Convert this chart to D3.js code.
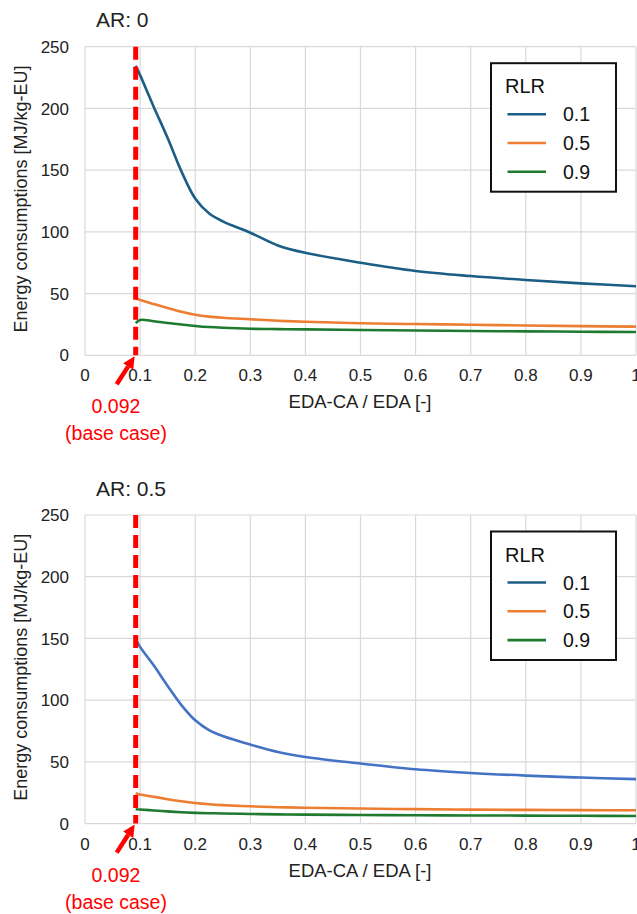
<!DOCTYPE html>
<html>
<head>
<meta charset="utf-8">
<script src="https://cdn.jsdelivr.net/npm/d3@7"></script>
<style>
  body { margin: 0; background: #fff; }
  svg { font-family: "Liberation Sans", Arial, sans-serif; }
</style>
</head>
<body>
<svg id="chart" width="637" height="914"></svg>
<script>
// x positions (EDA-CA / EDA)
var xs = [0.092, 0.1, 0.125, 0.15, 0.175, 0.2, 0.225, 0.25, 0.3, 0.35, 0.4, 0.5, 0.6, 0.7, 0.8, 0.9, 1.0];
var rlrLabels = ["0.1", "0.5", "0.9"];
var xTicks = [0, 0.1, 0.2, 0.3, 0.4, 0.5, 0.6, 0.7, 0.8, 0.9, 1];
var yTicks = [0, 50, 100, 150, 200, 250];
var baseCase = 0.092;

// AR: 0
var ar0_rlr01 = [234.5, 227, 201, 176, 149, 127, 115, 108.5, 99.3, 89, 83, 75, 68.3, 64.2, 61, 58.3, 56];
var ar0_rlr05 = [46, 44.8, 41.5, 38.3, 35.3, 32.8, 31.3, 30.4, 29.2, 28, 27.2, 26, 25.3, 24.8, 24.1, 23.6, 23.2];
var ar0_rlr09 = [26, 28.6, 27.6, 26.2, 24.9, 23.8, 22.9, 22.3, 21.5, 21.2, 21, 20.5, 20.1, 19.7, 19.4, 19.1, 18.9];
// AR: 0.5
var ar05_rlr01 = [150, 143.2, 128, 111.5, 96, 83.7, 75.8, 71, 64, 58, 54, 48.7, 44, 41, 38.9, 37.3, 36];
var ar05_rlr05 = [24.5, 23.5, 21.7, 19.8, 18.1, 16.7, 15.7, 15, 14, 13.3, 12.8, 12.2, 11.7, 11.3, 11.1, 10.9, 10.8];
var ar05_rlr09 = [11.6, 11.4, 10.6, 9.9, 9.2, 8.7, 8.4, 8.2, 7.8, 7.5, 7.3, 7, 6.8, 6.6, 6.5, 6.3, 6.2];

var legendColors = ["#1a5e85", "#ed7d31", "#1f7a30"];

var svg = d3.select("#chart");

// 描画関数
function drawPanel(top, title, series, colors) {
  var left = 85, right = 636, bottom = top + 308.6;
  var x = d3.scaleLinear().domain([0, 1]).range([left, right]);
  var y = d3.scaleLinear().domain([0, 250]).range([bottom, top]);
  var g = svg.append("g");

  // grid
  g.selectAll(".vg").data(xTicks).enter().append("line")
    .attr("x1", function(d){ return x(d); }).attr("x2", function(d){ return x(d); })
    .attr("y1", top).attr("y2", bottom)
    .attr("stroke", "#d9d9d9").attr("stroke-width", 1.2);
  g.selectAll(".hg").data(yTicks).enter().append("line")
    .attr("x1", left).attr("x2", right)
    .attr("y1", function(d){ return y(d); }).attr("y2", function(d){ return y(d); })
    .attr("stroke", "#d9d9d9").attr("stroke-width", 1.2);

  // tick labels
  g.selectAll(".yt").data(yTicks).enter().append("text")
    .attr("x", 69).attr("y", function(d){ return y(d); }).attr("dy", "0.36em")
    .attr("text-anchor", "end").attr("font-size", 17).attr("fill", "#222")
    .text(function(d){ return d; });
  g.selectAll(".xt").data(xTicks).enter().append("text")
    .attr("x", function(d){ return x(d); }).attr("y", bottom + 26)
    .attr("text-anchor", "middle").attr("font-size", 17).attr("fill", "#222")
    .text(function(d){ return d; });

  // axis titles
  g.append("text")
    .attr("transform", "translate(27," + ((top + bottom) / 2 - 2) + ") rotate(-90)")
    .attr("text-anchor", "middle").attr("font-size", 18).attr("fill", "#222")
    .text("Energy consumptions [MJ/kg-EU]");
  g.append("text")
    .attr("x", 360).attr("y", bottom + 53)
    .attr("text-anchor", "middle").attr("font-size", 18.5).attr("fill", "#222")
    .text("EDA-CA / EDA [-]");
  g.append("text")
    .attr("x", 96).attr("y", top - 19.5)
    .attr("font-size", 21).attr("fill", "#222")
    .text(title);

  // lines
  var line = d3.line()
    .x(function(d, i){ return x(xs[i]); })
    .y(function(d){ return y(d); })
    .curve(d3.curveCatmullRom.alpha(0.5));
  series.forEach(function(s, i) {
    g.append("path")
      .attr("d", line(s))
      .attr("fill", "none")
      .attr("stroke", colors[i])
      .attr("stroke-width", 2.6);
  });

  // base case marker
  g.append("line")
    .attr("x1", x(baseCase)).attr("x2", x(baseCase))
    .attr("y1", top).attr("y2", bottom)
    .attr("stroke", "#ff0000").attr("stroke-width", 5)
    .attr("stroke-dasharray", "13,7");
  var ax = x(baseCase) - 1, ay = bottom + 1;
  var tx = ax - 18, ty = ay + 28;
  var ang = Math.atan2(ay - ty, ax - tx);
  var hl = 12, hw = 6;
  var bx = ax - hl * Math.cos(ang), by = ay - hl * Math.sin(ang);
  g.append("line")
    .attr("x1", tx).attr("y1", ty).attr("x2", bx).attr("y2", by)
    .attr("stroke", "#ff0000").attr("stroke-width", 4.5);
  g.append("path")
    .attr("d", "M" + ax + "," + ay +
      "L" + (bx + hw * Math.sin(ang)) + "," + (by - hw * Math.cos(ang)) +
      "L" + (bx - hw * Math.sin(ang)) + "," + (by + hw * Math.cos(ang)) + "Z")
    .attr("fill", "#ff0000");
  g.append("text")
    .attr("x", 116).attr("y", bottom + 58)
    .attr("text-anchor", "middle").attr("font-size", 19.5).attr("fill", "#ff0000")
    .text("0.092");
  g.append("text")
    .attr("x", 116).attr("y", bottom + 85)
    .attr("text-anchor", "middle").attr("font-size", 19.5).attr("fill", "#ff0000")
    .text("(base case)");

  // legend
  var lg = g.append("g").attr("transform", "translate(491," + (top + 16.5) + ")");
  lg.append("rect")
    .attr("width", 125).attr("height", 128.5)
    .attr("fill", "#fff").attr("stroke", "#111").attr("stroke-width", 2);
  lg.append("text")
    .attr("x", 14).attr("y", 30)
    .attr("font-size", 20).attr("fill", "#111")
    .text("RLR");
  rlrLabels.forEach(function(lab, i) {
    var ly = 51 + i * 28.8;
    lg.append("line")
      .attr("x1", 16.5).attr("x2", 55).attr("y1", ly).attr("y2", ly)
      .attr("stroke", legendColors[i]).attr("stroke-width", 2.6);
    lg.append("text")
      .attr("x", 72).attr("y", ly).attr("dy", "0.36em")
      .attr("font-size", 19.5).attr("fill", "#111")
      .text(lab);
  });
}

drawPanel(46.7, "AR: 0", [ar0_rlr01, ar0_rlr05, ar0_rlr09], ["#1a5e85", "#ed7d31", "#1f7a30"]);
drawPanel(515, "AR: 0.5", [ar05_rlr01, ar05_rlr05, ar05_rlr09], ["#4472c4", "#ed7d31", "#1f7a30"]);
</script>
</body>
</html>
